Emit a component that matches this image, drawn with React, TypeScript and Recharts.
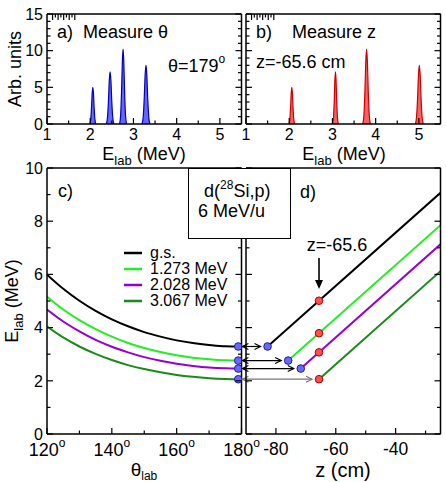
import React from 'react'
import {
  ComposedChart,
  Area,
  Line,
  Scatter,
  XAxis,
  YAxis,
  ReferenceLine,
  Legend
} from 'recharts'

const FONT = '"Liberation Sans", Arial, Helvetica, sans-serif'
const W = 446
const H = 482

// final states of 29Si
const states = ['g.s.', '1.273 MeV', '2.028 MeV', '3.067 MeV']
const stateKeys = ['s0', 's1', 's2', 's3']
const stateColors = ['#000000', '#22ee22', '#9400d3', '#1a8a1a']

// proton lab energy (MeV) against lab angle
const thetaLab = [120, 125, 130, 135, 140, 145, 150, 155, 160, 165, 170, 175, 180]
const eGs = [5.99, 5.46, 5.01, 4.63, 4.31, 4.05, 3.83, 3.66, 3.52, 3.42, 3.35, 3.30, 3.29]
const e1273 = [5.16, 4.68, 4.28, 3.94, 3.66, 3.42, 3.23, 3.08, 2.96, 2.87, 2.81, 2.77, 2.76]
const e2028 = [4.68, 4.23, 3.86, 3.54, 3.28, 3.07, 2.89, 2.75, 2.64, 2.56, 2.50, 2.47, 2.46]
const e3067 = [4.04, 3.63, 3.29, 3.01, 2.78, 2.59, 2.44, 2.32, 2.22, 2.15, 2.10, 2.07, 2.06]

// energy at the backward detector angle, and where each state starts along z
const thetaDet = 179
const eBack = [3.29, 2.76, 2.46, 2.06]
const zStart = [-82.8, -75.9, -71.7, -65.6]
const zDet = -65.6
const eAtZ = [5.01, 3.79, 3.07, 2.06]
const zEnd = -25
const eEnd = [9.07, 7.85, 7.13, 6.12]

// peak heights (arb. units) and base half-widths (MeV)
const peakHeights = [8.0, 10.2, 7.1, 5.0]
const halfWidthTheta = [0.092, 0.08, 0.088, 0.07]
const halfWidthZ = [0.092, 0.088, 0.066, 0.066]
// shared peak outline: offset in half-widths, fraction of the height
const shapeOffset = [-1, -0.7, -0.45, -0.2, 0, 0.2, 0.45, 0.7, 1]
const shapeLevel = [0, 0.12, 0.42, 0.85, 1, 0.85, 0.42, 0.12, 0]

// axis ticks
const eSpecTicks = [1, 1.5, 2, 2.5, 3, 3.5, 4, 4.5, 5]
const eSpecMajors = [1, 2, 3, 4, 5]
const countTicks = [0, 1, 2, 3, 4, 5, 6, 7, 8, 9, 10, 11, 12, 13, 14, 15]
const countMajors = [0, 5, 10, 15]
const thetaTicks = [120, 130, 140, 150, 160, 170, 180]
const thetaMajors = [120, 140, 160, 180]
const eLabTicks = [0, 1, 2, 3, 4, 5, 6, 7, 8, 9, 10]
const eLabMajors = [0, 2, 4, 6, 8, 10]
const zTicks = [-80, -70, -60, -50, -40, -30]
const zMajors = [-80, -60, -40]

const thetaRows = thetaLab.map((t, i) => ({
  theta: t,
  s0: eGs[i],
  s1: e1273[i],
  s2: e2028[i],
  s3: e3067[i]
}))

function peakRows(centres: number[], halfWidths: number[]) {
  const rows: Record<string, number>[] = []
  centres.forEach((c, k) => {
    shapeOffset.forEach((o, j) => {
      rows.push({ e: c + o * halfWidths[k], ['p' + k]: shapeLevel[j] * peakHeights[k] })
    })
  })
  return rows.sort((a, b) => a.e - b.e)
}

const thetaSpectrum = peakRows(eBack, halfWidthTheta)
const zSpectrum = peakRows(eAtZ, halfWidthZ)

type Side = 'bottom' | 'top' | 'left' | 'right'
type TickLabel = (v: number, x: number, y: number) => React.ReactNode

// inward-pointing ticks, labels only on major values
const makeTick = (side: Side, majors: number[], label?: TickLabel) => (props: any) => {
  const { x, y, payload } = props
  const v = payload.value as number
  const major = majors.includes(v)
  const len = major ? 6 : 3.5
  const dx = side === 'left' ? len : side === 'right' ? -len : 0
  const dy = side === 'bottom' ? -len : side === 'top' ? len : 0
  return (
    <g>
      <line x1={x} y1={y} x2={x + dx} y2={y + dy} stroke="#000" strokeWidth={1.2} />
      {label && major ? label(v, x, y) : null}
    </g>
  )
}

const bottomNum = (size: number, off: number): TickLabel => (v, x, y) => (
  <text x={x} y={y + off} textAnchor="middle" fontSize={size} fontFamily={FONT} fill="#000">
    {v}
  </text>
)

const leftNum = (size: number): TickLabel => (v, x, y) => (
  <text x={x - 4} y={y + size * 0.36} textAnchor="end" fontSize={size} fontFamily={FONT} fill="#000">
    {v}
  </text>
)

const degLabel: TickLabel = (v, x, y) => (
  <text x={x} y={y + 22} textAnchor="middle" fontSize={18} fontFamily={FONT} fill="#000">
    {v}
    <tspan dy={-9} fontSize={12}>o</tspan>
  </text>
)

const frame = { stroke: '#000', strokeWidth: 1.5 }

// axes on all four sides; each axis band is 1px wide, so margins sit 1px outside the plot box
function frameAxes(
  xKey: string,
  xDomain: number[],
  xTicks: number[],
  xMajors: number[],
  xLabel: TickLabel | undefined,
  yDomain: number[],
  yTicks: number[],
  yMajors: number[],
  yLabel: TickLabel | undefined
) {
  const common = {
    type: 'number' as const,
    allowDataOverflow: true,
    interval: 0 as const,
    tickSize: 0,
    tickMargin: 0,
    tickLine: false,
    axisLine: frame
  }
  return [
    <XAxis key="xb" dataKey={xKey} domain={xDomain} ticks={xTicks} height={1} tick={makeTick('bottom', xMajors, xLabel)} {...common} />,
    <XAxis key="xt" xAxisId="top" orientation="top" domain={xDomain} ticks={xTicks} height={1} tick={makeTick('top', xMajors)} {...common} />,
    <YAxis key="yl" domain={yDomain} ticks={yTicks} width={1} tick={makeTick('left', yMajors, yLabel)} {...common} />,
    <YAxis key="yr" yAxisId="right" orientation="right" domain={yDomain} ticks={yTicks} width={1} tick={makeTick('right', yMajors)} {...common} />
  ]
}

const box = (left: number, top: number, right: number, bottom: number) => ({
  left: left - 1,
  top: top - 1,
  right: W - right - 1,
  bottom: H - bottom - 1
})

const dotShape = (fill: string, stroke: string) => (p: any) => (
  <circle cx={p.cx} cy={p.cy} r={3.8} fill={fill} stroke={stroke} strokeWidth={1} />
)

// horizontal double arrow, stopping short of the dot on the right
const doubleArrow = (color: string) => (p: any) => {
  const { x1, y1, x2 } = p
  const xb = x2 - 7
  return (
    <g stroke={color} strokeWidth={1.2} fill="none">
      <line x1={x1} y1={y1} x2={xb} y2={y1} />
      <path d={`M${x1 + 6},${y1 - 3} L${x1},${y1} L${x1 + 6},${y1 + 3}`} />
      <path d={`M${xb - 6},${y1 - 3} L${xb},${y1} L${xb - 6},${y1 + 3}`} />
    </g>
  )
}

const downArrow = (p: any) => {
  const { x1, y1, y2 } = p
  return (
    <g>
      <line x1={x1} y1={y1} x2={x1} y2={y2 - 8} stroke="#000" strokeWidth={1.6} />
      <path d={`M${x1 - 4},${y2 - 9} L${x1 + 4},${y2 - 9} L${x1},${y2} Z`} fill="#000" />
    </g>
  )
}

const renderLegend = (props: any) => {
  const entries = (props.payload ?? [])
    .filter((p: any) => states.includes(p.value))
    .sort((a: any, b: any) => states.indexOf(a.value) - states.indexOf(b.value))
  return (
    <div style={{ fontFamily: FONT, fontSize: 16, color: '#000' }}>
      {entries.map((p: any) => (
        <div key={p.value} style={{ display: 'flex', alignItems: 'center', height: 16 }}>
          <svg width={18} height={4} style={{ display: 'block' }}>
            <line x1={0} y1={2} x2={18} y2={2} stroke={p.color} strokeWidth={2.5} />
          </svg>
          <span style={{ marginLeft: 8, lineHeight: '16px' }}>{p.value}</span>
        </div>
      ))}
    </div>
  )
}

function Spectrum({
  rows,
  left,
  right,
  fill,
  stroke,
  withYLabels
}: {
  rows: Record<string, number>[]
  left: number
  right: number
  fill: string
  stroke: string
  withYLabels: boolean
}) {
  return (
    <ComposedChart width={W} height={H} data={rows} margin={box(left, 14, right, 124)}>
      {frameAxes('e', [1, 5.5], eSpecTicks, eSpecMajors, bottomNum(16, 16), [0, 15], countTicks, countMajors, withYLabels ? leftNum(16) : undefined)}
      {peakHeights.map((_, k) => (
        <Area
          key={k}
          dataKey={'p' + k}
          type="monotone"
          fill={fill}
          fillOpacity={0.85}
          stroke={stroke}
          strokeWidth={1.2}
          isAnimationActive={false}
        />
      ))}
    </ComposedChart>
  )
}

const layer: React.CSSProperties = { position: 'absolute', left: 0, top: 0 }

export default function App() {
  const blueTheta = eBack.map((e) => ({ theta: thetaDet, e }))
  const blueZ = eBack.map((e, i) => ({ z: zStart[i], e })).filter((r) => r.z < zDet)
  const redZ = eAtZ.map((e) => ({ z: zDet, e }))
  const arrowFrom = -91.2
  const pointerTop = 6.62
  const pointerTip = 5.45

  return (
    <div style={{ position: 'absolute', left: 0, top: 0, width: W, height: H, background: '#fff', fontFamily: FONT }}>
      <div style={layer}>
        <Spectrum rows={thetaSpectrum} left={47} right={241.5} fill="#4a4cf5" stroke="#0000c0" withYLabels />
      </div>
      <div style={layer}>
        <Spectrum rows={zSpectrum} left={246} right={440.5} fill="#f04848" stroke="#d00000" withYLabels={false} />
      </div>

      <div style={layer}>
        <ComposedChart width={W} height={H} data={thetaRows} margin={box(47, 168, 241.5, 434)}>
          {frameAxes('theta', [120, 180], thetaTicks, thetaMajors, degLabel, [0, 10], eLabTicks, eLabMajors, leftNum(16))}
          {stateKeys.map((k, i) => (
            <Line
              key={k}
              dataKey={k}
              name={states[i]}
              type="monotone"
              stroke={stateColors[i]}
              strokeWidth={2}
              dot={false}
              isAnimationActive={false}
            />
          ))}
          <Scatter data={blueTheta} dataKey="e" legendType="none" shape={dotShape('#6868ff', '#1c1ca0')} isAnimationActive={false} />
          <Legend
            layout="vertical"
            align="center"
            verticalAlign="middle"
            content={renderLegend}
            wrapperStyle={{ left: 124, top: 245, width: 'auto' }}
          />
        </ComposedChart>
      </div>

      <div style={layer}>
        <ComposedChart width={W} height={H} margin={box(246, 168, 440.5, 434)}>
          {frameAxes('z', [-90, -25], zTicks, zMajors, bottomNum(17.5, 20.5), [0, 10], eLabTicks, eLabMajors, undefined)}
          {states.map((s, i) => (
            <Line
              key={s}
              data={[
                { z: zStart[i], e: eBack[i] },
                { z: zEnd, e: eEnd[i] }
              ]}
              dataKey="e"
              name={s}
              type="linear"
              stroke={stateColors[i]}
              strokeWidth={2}
              dot={false}
              isAnimationActive={false}
            />
          ))}
          {states.map((s, i) => (
            <ReferenceLine
              key={'arrow' + s}
              segment={[
                { x: arrowFrom, y: eBack[i] },
                { x: zStart[i], y: eBack[i] }
              ]}
              ifOverflow="visible"
              shape={doubleArrow(i === 3 ? '#777777' : '#000000')}
            />
          ))}
          <ReferenceLine
            segment={[
              { x: zDet, y: pointerTop },
              { x: zDet, y: pointerTip }
            ]}
            ifOverflow="visible"
            shape={downArrow}
          />
          <Scatter data={blueZ} dataKey="e" legendType="none" shape={dotShape('#6868ff', '#1c1ca0')} isAnimationActive={false} />
          <Scatter data={redZ} dataKey="e" legendType="none" shape={dotShape('#ff4f4f', '#b00000')} isAnimationActive={false} />
        </ComposedChart>
      </div>

      <svg style={{ ...layer, pointerEvents: 'none' }} width={W} height={H} fontFamily={FONT} fill="#000">
        <text x={57} y={38} fontSize={18}>a)</text>
        <text x={83} y={38} fontSize={18}>Measure θ</text>
        <text x={168} y={72} fontSize={18}>
          θ=179<tspan dy={-9} fontSize={12}>o</tspan>
        </text>
        <text x={256} y={38} fontSize={18}>b)</text>
        <text x={292} y={38} fontSize={18}>Measure z</text>
        <text x={256} y={68} fontSize={18}>z=-65.6 cm</text>

        <text transform="translate(20.5,69) rotate(-90)" textAnchor="middle" fontSize={18}>Arb. units</text>
        <text x={144} y={160} textAnchor="middle" fontSize={18}>
          E<tspan dy={5} fontSize={13}>lab</tspan>
          <tspan dy={-5}> (MeV)</tspan>
        </text>
        <text x={344} y={160} textAnchor="middle" fontSize={18}>
          E<tspan dy={5} fontSize={13}>lab</tspan>
          <tspan dy={-5}> (MeV)</tspan>
        </text>

        <text x={58} y={197} fontSize={18}>c)</text>
        <text x={300} y={198} fontSize={18}>d)</text>

        <rect x={188.5} y={168.5} width={102} height={70} fill="#fff" stroke="#000" strokeWidth={1} />
        <text x={204} y={197} fontSize={18}>
          d(<tspan dy={-8} fontSize={12}>28</tspan>
          <tspan dy={8}>Si,p)</tspan>
        </text>
        <text x={198} y={217} fontSize={18}>6 MeV/u</text>

        <text x={337} y={251} textAnchor="middle" fontSize={18}>z=-65.6</text>

        <text transform="translate(17.5,301) rotate(-90)" textAnchor="middle" fontSize={18}>
          E<tspan dy={5} fontSize={13}>lab</tspan>
          <tspan dy={-5}> (MeV)</tspan>
        </text>
        <text x={144} y={476} textAnchor="middle" fontSize={19}>
          θ<tspan dy={4} fontSize={12}>lab</tspan>
        </text>
        <text x={343} y={476.5} textAnchor="middle" fontSize={20}>z (cm)</text>
      </svg>
    </div>
  )
}
